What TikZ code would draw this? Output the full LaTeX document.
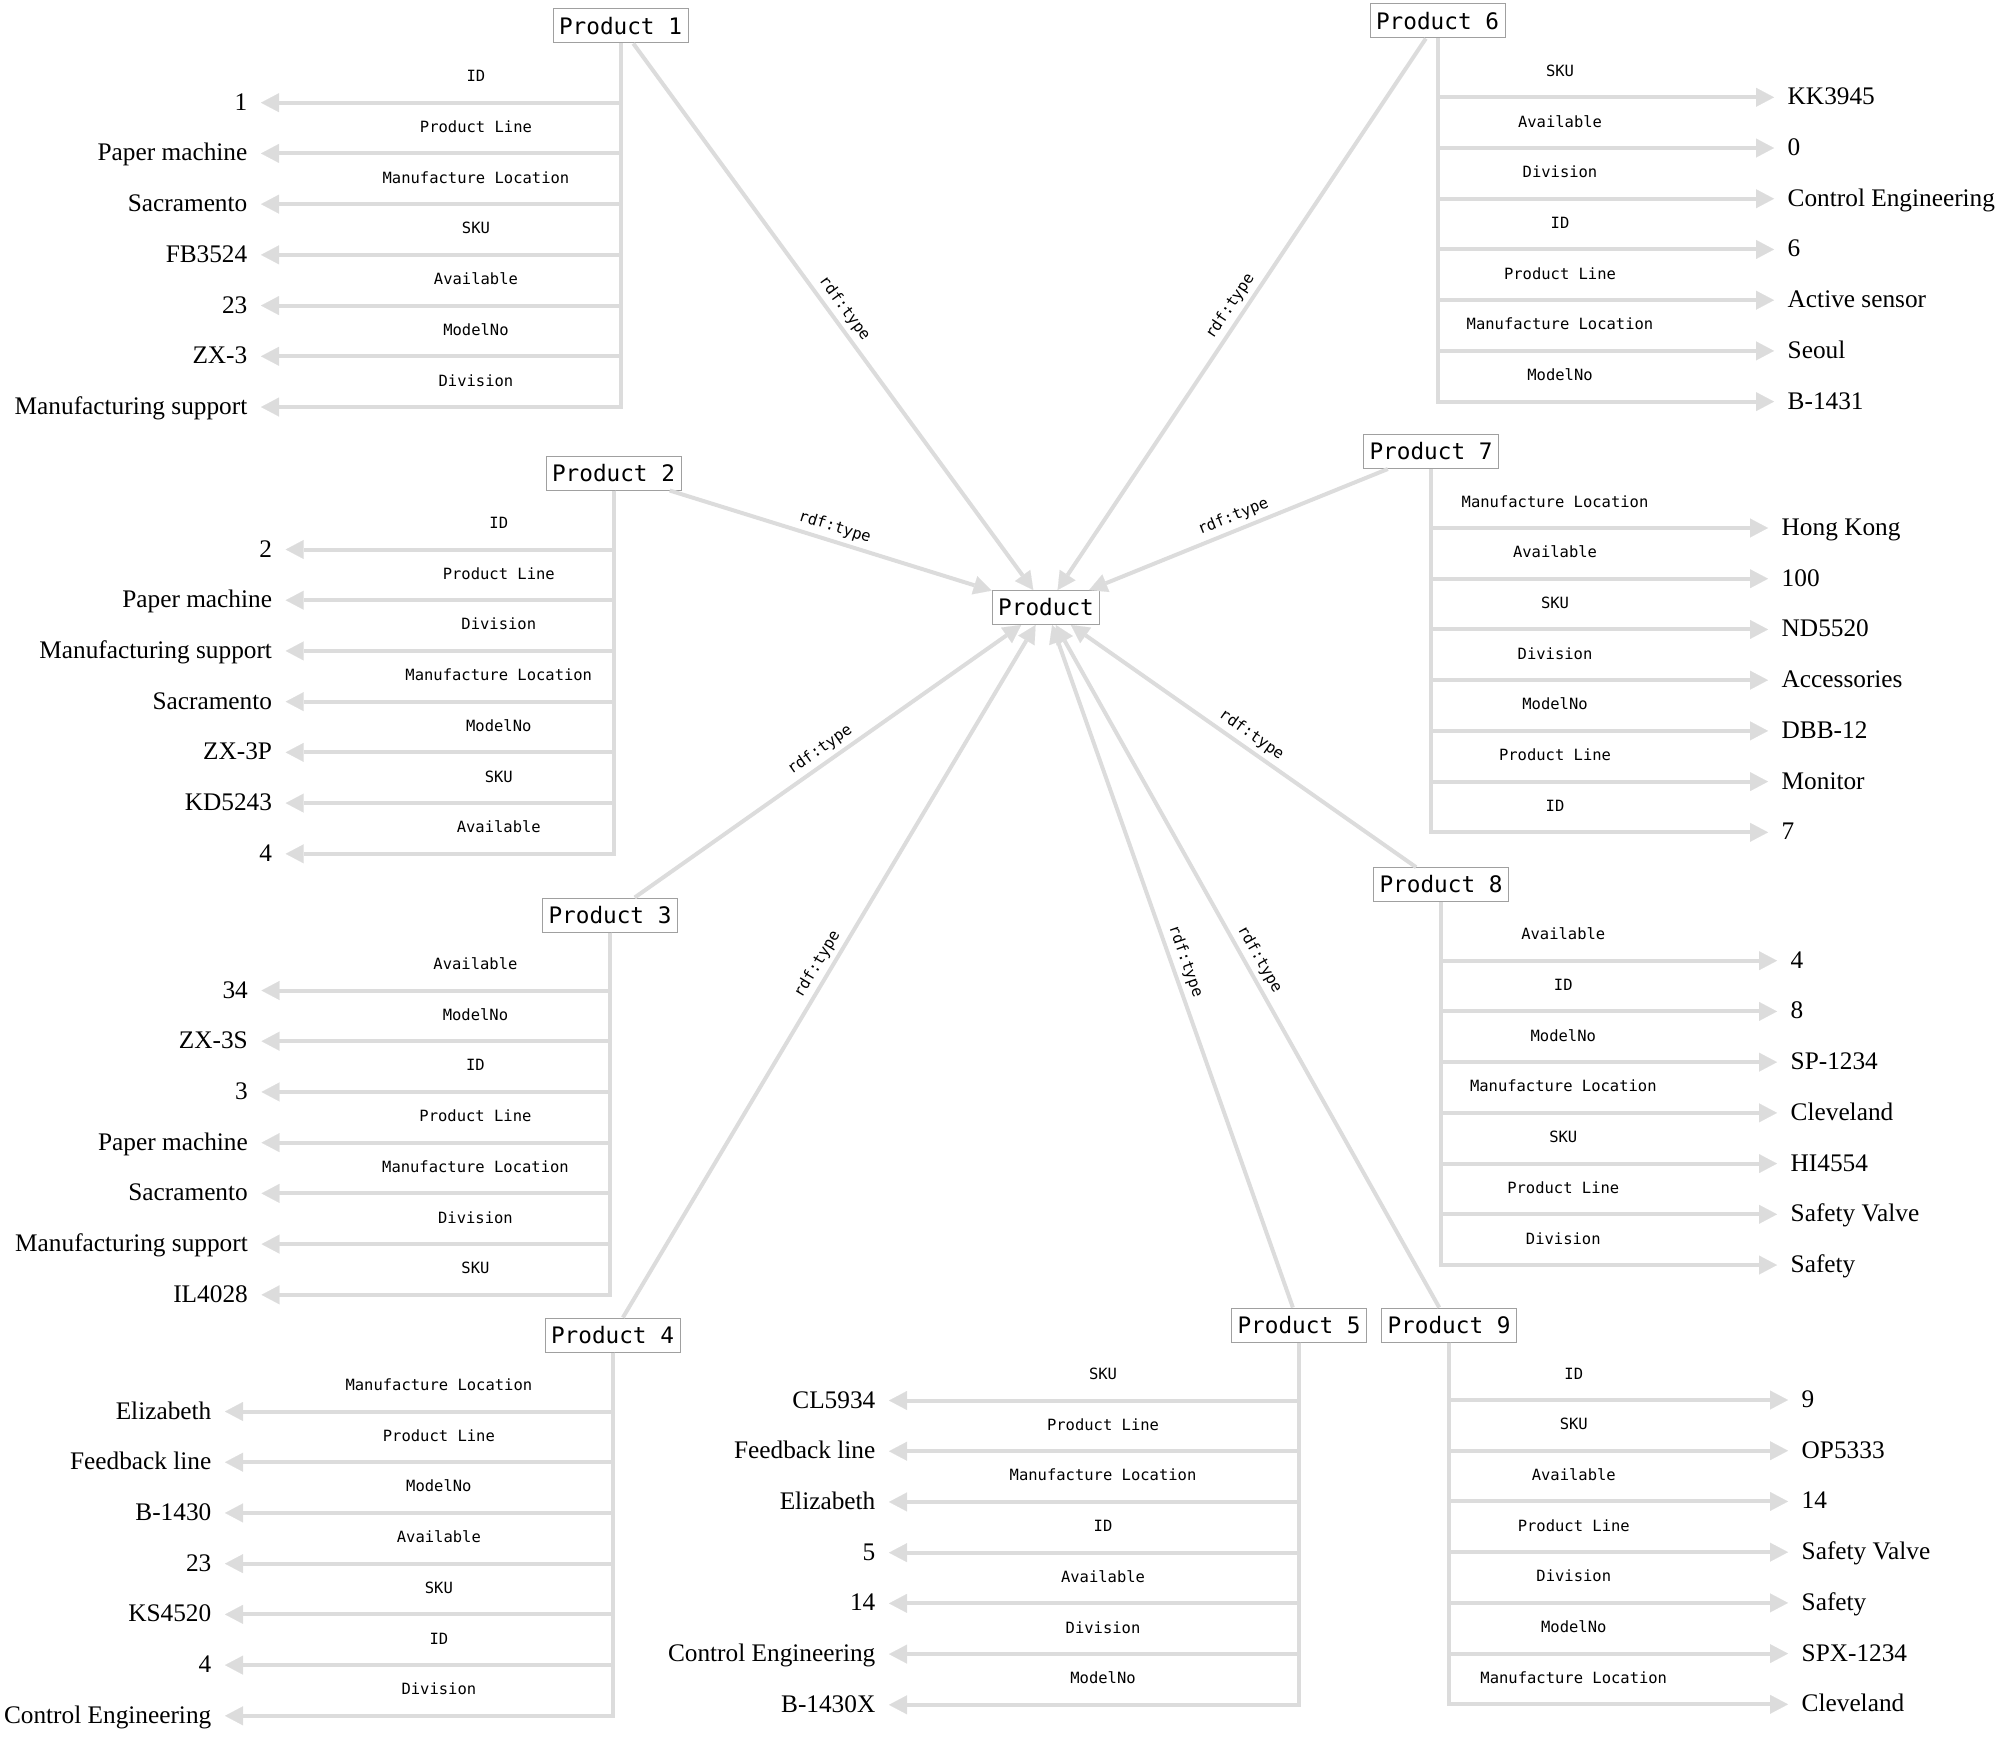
\documentclass[tikz,border=0pt]{standalone}
\usepackage{fontspec}
\setmainfont{Liberation Serif}
\newfontfamily\monofont{DejaVu Sans Mono}
\usetikzlibrary{arrows.meta}

\definecolor{edgegray}{HTML}{DCDCDC}
\definecolor{boxgray}{HTML}{A0A0A0}

% one product with its properties: node, tip x, first row y, label pos, side anchor, list
\newcommand\propgroup[6]{%
  \foreach \lab/\val [count=\i] in {#6} {
    \node[valnode, anchor=#5] (#1v\i) at (#2, {#3+50.72*(\i-1)}) {\val};
    \draw[edge] (#1.south) |- node[proplabel, pos=#4] {\lab} (#1v\i);
  }%
}

\begin{document}
\begin{tikzpicture}[x=1pt, y=-1pt,
  edge/.style={draw=edgegray, line width=4pt,
    -{Triangle[length=18pt, width=19pt, line width=0.1pt]}},
  item/.style={draw=boxgray, line width=1pt, fill=white,
    font=\monofont\fontsize{22.7pt}{27pt}\selectfont,
    inner xsep=6pt, inner ysep=0pt, minimum height=34pt,
    text height=16.5pt, text depth=0pt},
  valnode/.style={font=\fontsize{25.3pt}{30pt}\selectfont,
    inner xsep=13.5pt, inner ysep=0pt, text height=17pt, text depth=2pt},
  proplabel/.style={font=\monofont\fontsize{15.5pt}{18pt}\selectfont,
    anchor=base, yshift=21pt, inner sep=0pt},
  rdflabel/.style={font=\monofont\fontsize{15.5pt}{18pt}\selectfont,
    midway, sloped, above=1pt}
]
\useasboundingbox (0,0) rectangle (2000,1737);

% class node and its instances
\node[item] (prod) at (1046,607.5) {Product};
\node[item] (p1) at (620.5,26) {Product 1};
\node[item] (p2) at (613.5,473) {Product 2};
\node[item] (p3) at (610,915) {Product 3};
\node[item] (p4) at (612.5,1335) {Product 4};
\node[item] (p5) at (1299,1325) {Product 5};
\node[item] (p6) at (1437.5,21) {Product 6};
\node[item] (p7) at (1431,451.5) {Product 7};
\node[item] (p8) at (1441,884.7) {Product 8};
\node[item] (p9) at (1449,1325) {Product 9};

% rdf:type links
\foreach \p in {p1,p2,p3,p4,p5,p6,p7,p8,p9}
  \draw[edge] (\p) -- node[rdflabel] {rdf:type} (prod);

% properties
\propgroup{p1}{261}{102.7}{0.701}{east}{ID/1, Product Line/Paper machine,
  Manufacture Location/Sacramento, SKU/FB3524, Available/23, ModelNo/ZX-3,
  Division/Manufacturing support}
\propgroup{p2}{285.7}{549.5}{0.675}{east}{ID/2, Product Line/Paper machine,
  Division/Manufacturing support, Manufacture Location/Sacramento,
  ModelNo/ZX-3P, SKU/KD5243, Available/4}
\propgroup{p3}{261.5}{990.5}{0.693}{east}{Available/34, ModelNo/ZX-3S, ID/3,
  Product Line/Paper machine, Manufacture Location/Sacramento,
  Division/Manufacturing support, SKU/IL4028}
\propgroup{p4}{225}{1411.5}{0.724}{east}{Manufacture Location/Elizabeth,
  Product Line/Feedback line, ModelNo/B-1430, Available/23, SKU/KS4520, ID/4,
  Division/Control Engineering}
\propgroup{p5}{889}{1400.5}{0.739}{east}{SKU/CL5934, Product Line/Feedback line,
  Manufacture Location/Elizabeth, ID/5, Available/14,
  Division/Control Engineering, ModelNo/B-1430X}
\propgroup{p6}{1774}{97.3}{0.682}{west}{SKU/KK3945, Available/0,
  Division/Control Engineering, ID/6, Product Line/Active sensor,
  Manufacture Location/Seoul, ModelNo/B-1431}
\propgroup{p7}{1768}{528}{0.684}{west}{Manufacture Location/Hong Kong,
  Available/100, SKU/ND5520, Division/Accessories, ModelNo/DBB-12,
  Product Line/Monitor, ID/7}
\propgroup{p8}{1777}{960.7}{0.682}{west}{Available/4, ID/8, ModelNo/SP-1234,
  Manufacture Location/Cleveland, SKU/HI4554, Product Line/Safety Valve,
  Division/Safety}
\propgroup{p9}{1788}{1400}{0.684}{west}{ID/9, SKU/OP5333, Available/14,
  Product Line/Safety Valve, Division/Safety, ModelNo/SPX-1234,
  Manufacture Location/Cleveland}
\end{tikzpicture}
\end{document}
